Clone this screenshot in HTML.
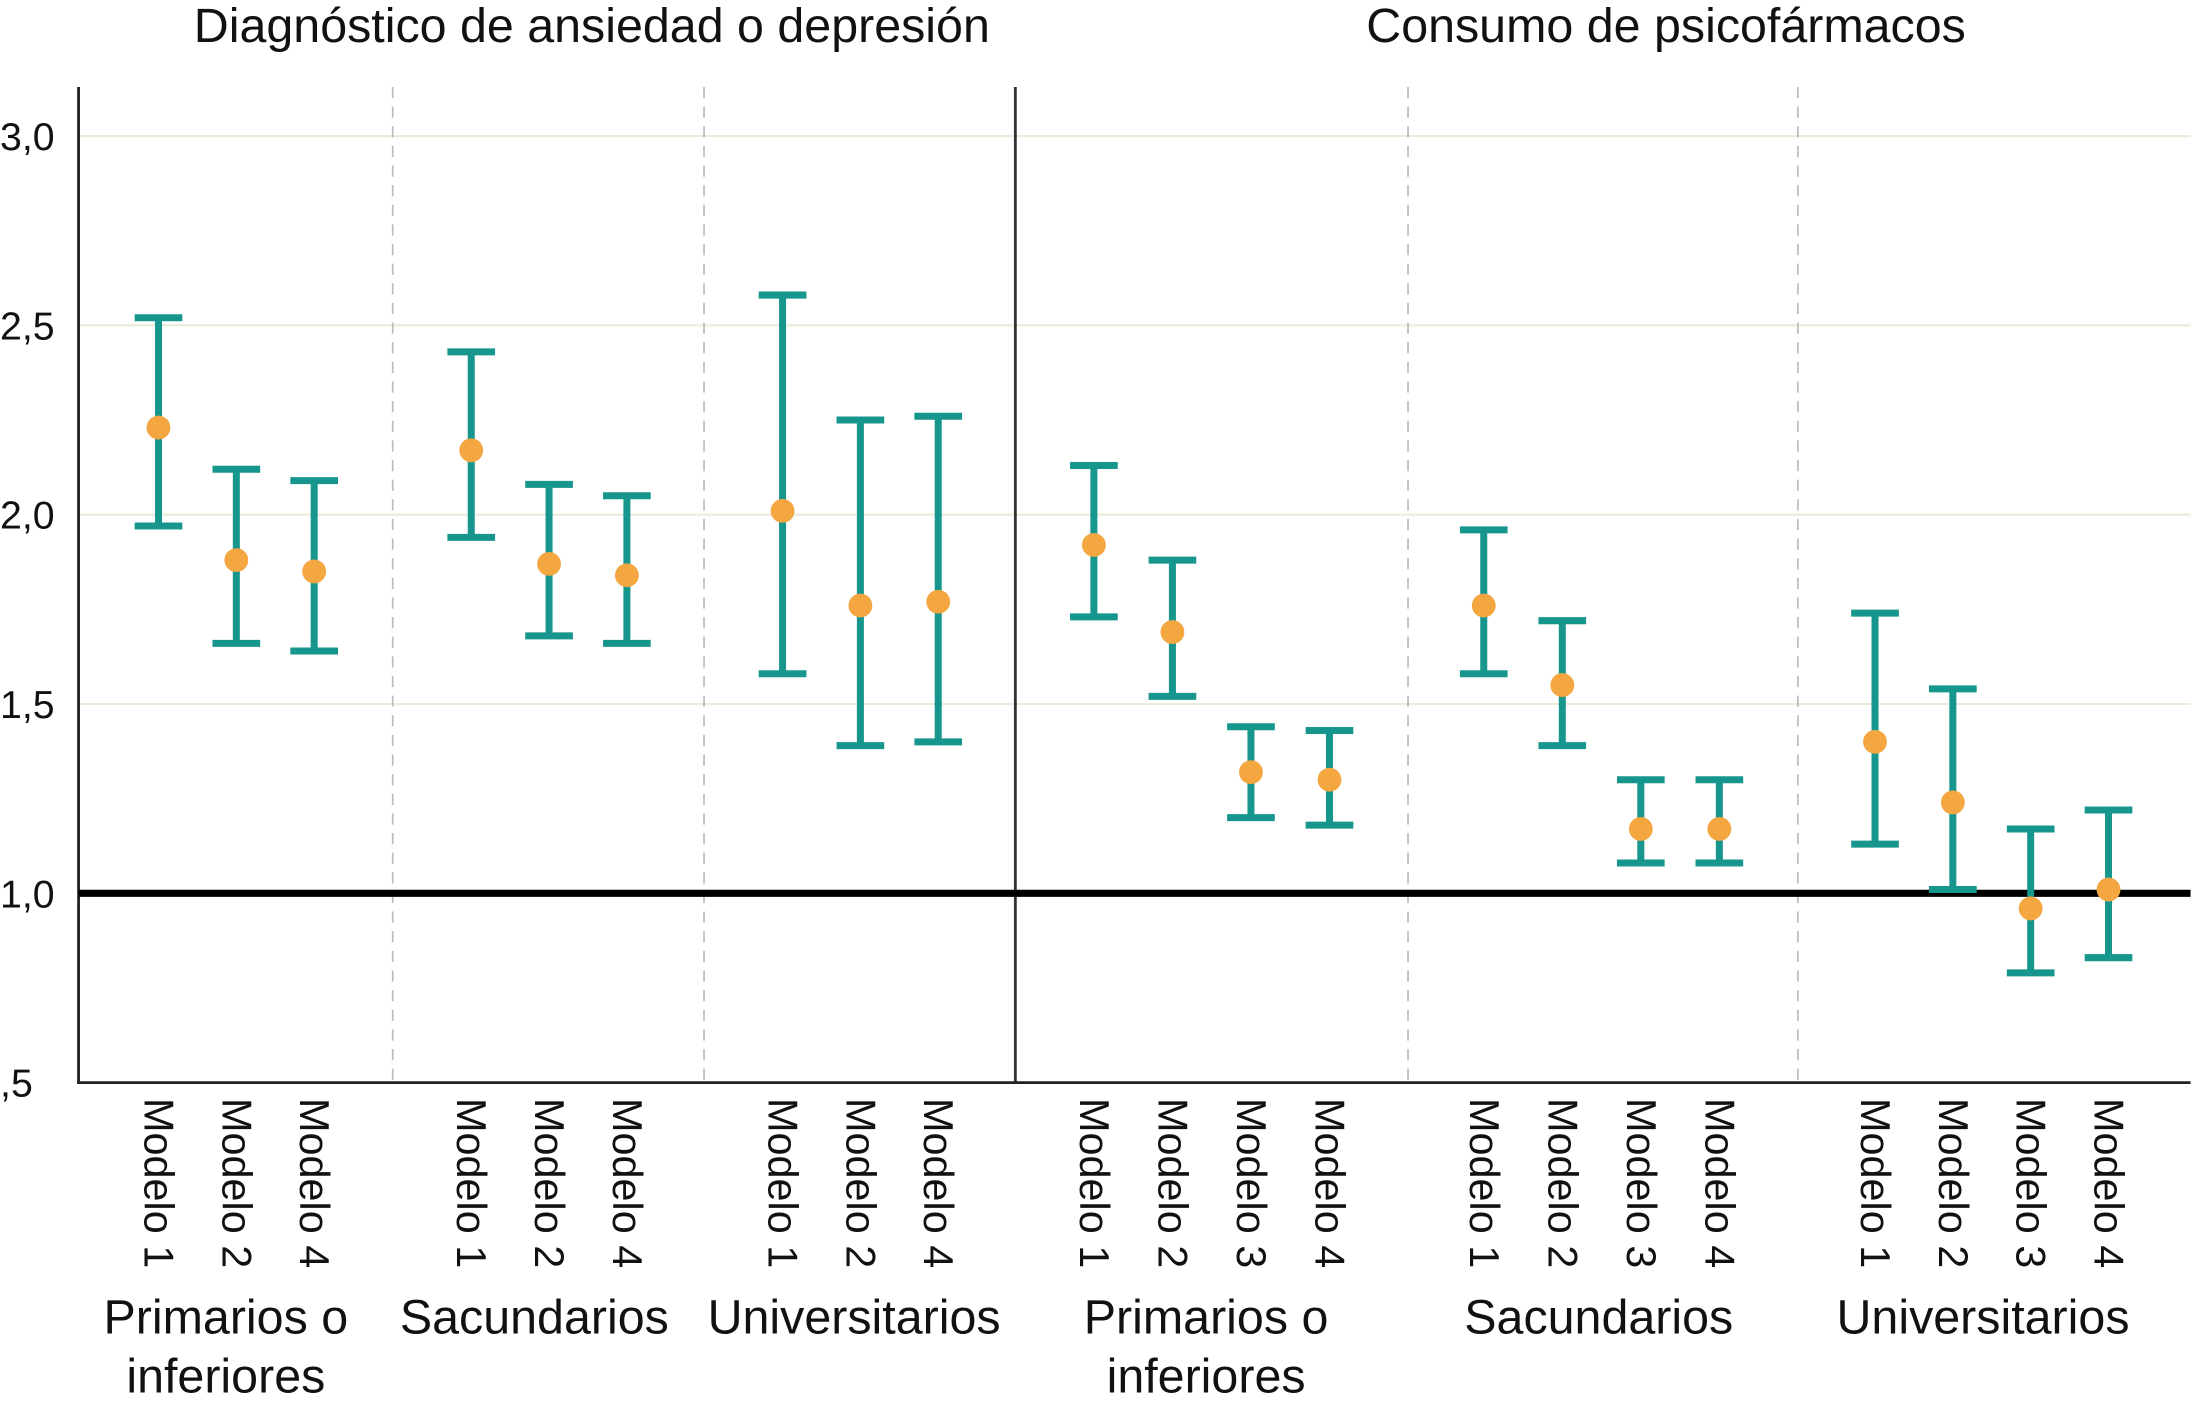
<!DOCTYPE html>
<html><head><meta charset="utf-8"><style>html,body{margin:0;padding:0;background:#fff}svg{display:block}</style></head>
<body>
<svg id="chart" xmlns="http://www.w3.org/2000/svg" width="2199" height="1415" viewBox="0 0 1568 1009" font-family="'Liberation Sans', sans-serif">
<g id="grid"></g>
<g id="frame"></g>
<g id="marks"></g>
<g id="labels"></g>
</svg>
<script>
const panelTitles = ["Diagnóstico de ansiedad o depresión", "Consumo de psicofármacos"];
const groupNames = [["Primarios o","inferiores"],["Sacundarios"],["Universitarios"],["Primarios o","inferiores"],["Sacundarios"],["Universitarios"]];
const modelLabels = [["Modelo 1","Modelo 2","Modelo 4"],["Modelo 1","Modelo 2","Modelo 4"],["Modelo 1","Modelo 2","Modelo 4"],
  ["Modelo 1","Modelo 2","Modelo 3","Modelo 4"],["Modelo 1","Modelo 2","Modelo 3","Modelo 4"],["Modelo 1","Modelo 2","Modelo 3","Modelo 4"]];
const estimates = [[2.23,1.88,1.85],[2.17,1.87,1.84],[2.01,1.76,1.77],[1.92,1.69,1.32,1.30],[1.76,1.55,1.17,1.17],[1.40,1.24,0.96,1.01]];
const lowers = [[1.97,1.66,1.64],[1.94,1.68,1.66],[1.58,1.39,1.40],[1.73,1.52,1.20,1.18],[1.58,1.39,1.08,1.08],[1.13,1.01,0.79,0.83]];
const uppers = [[2.52,2.12,2.09],[2.43,2.08,2.05],[2.58,2.25,2.26],[2.13,1.88,1.44,1.43],[1.96,1.72,1.30,1.30],[1.74,1.54,1.17,1.22]];
const yTicks = [0.5,1.0,1.5,2.0,2.5,3.0];
const yTickLabels = [",5","1,0","1,5","2,0","2,5","3,0"];

const NS="http://www.w3.org/2000/svg";
const y = v => 637 - (v-1)*270;
const groupStart=[85,308,530,752,1030,1309], groupStep=[55.5,55.5,55.5,56,56,55.5];
const groupCenters=[161,381,609,860,1140,1414];
const xPos=(g,i)=>groupStart[g]+28+i*groupStep[g];
function mk(parent,tag,attrs){const e=document.createElementNS(NS,tag);for(const k in attrs)e.setAttribute(k,attrs[k]);document.getElementById(parent).appendChild(e);return e;}

yTicks.forEach((t,i)=>{
  if(t>1){const l=mk('grid','line',{x1:56,x2:1562,y1:y(t),y2:y(t),stroke:'#ebebd9','stroke-width':1.5});
  
  }
  const tx=mk('labels','text',{x:0,y:y(t)+10,'font-size':28,fill:'#111'});tx.textContent=yTickLabels[i];
  
  
});
[280,502,1004,1282].forEach(x=>{const l=mk('frame','line',{x1:x,x2:x,y1:62,y2:772,stroke:'#bbb','stroke-width':1.2,'stroke-dasharray':'8,6'});
  
  });
let e=mk('frame','line',{x1:724,x2:724,y1:62,y2:772,stroke:'#333','stroke-width':2});


e=mk('frame','line',{x1:56,x2:56,y1:62,y2:773,stroke:'#222','stroke-width':2});


e=mk('frame','line',{x1:55,x2:1562,y1:772,y2:772,stroke:'#222','stroke-width':2});


e=mk('frame','line',{x1:56,x2:1562,y1:y(1),y2:y(1),stroke:'#000','stroke-width':5});



const teal='#17968d', orange='#f4a640';
estimates.forEach((grp,g)=>{grp.forEach((v,i)=>{
  const x=xPos(g,i), lo=y(lowers[g][i]), hi=y(uppers[g][i]);
  let m=mk('marks','line',{x1:x,x2:x,y1:hi,y2:lo,stroke:teal,'stroke-width':5});
  
  
  [hi,lo].forEach(yy=>{const c=mk('marks','line',{x1:x-17,x2:x+17,y1:yy,y2:yy,stroke:teal,'stroke-width':5});
    
    });
  const d=mk('marks','circle',{cx:x,cy:y(v),r:8.5,fill:orange});
  
  
  const t=mk('labels','text',{x:0,y:0,'font-size':29.5,fill:'#111','dominant-baseline':'central',transform:`translate(${x},783) rotate(90)`});
  t.textContent=modelLabels[g][i];
  
  
});
  const gc=groupCenters[g];
  groupNames[g].forEach((s,k)=>{const t=mk('labels','text',{x:gc,y:951+k*42,'font-size':34.5,'text-anchor':'middle',fill:'#111'});t.textContent=s;
    
    });
});
[[422,0],[1188,1]].forEach(([x,i])=>{const t=mk('labels','text',{x:x,y:30,'font-size':34.5,'text-anchor':'middle',fill:'#111'});t.textContent=panelTitles[i];
  
  });
</script>
</body></html>
